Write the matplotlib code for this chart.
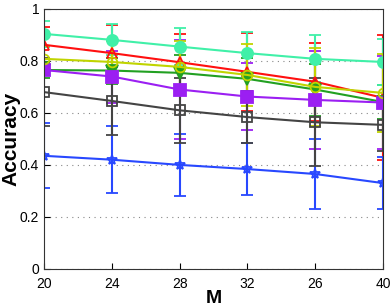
import matplotlib
matplotlib.use('Agg')
import matplotlib.pyplot as plt

plt.rcParams['font.family'] = ['Liberation Sans', 'DejaVu Sans']

m_labels = ['20', '24', '28', '32', '26', '40']

cyan_acc = [0.904, 0.881, 0.855, 0.830, 0.808, 0.796]
cyan_err = [0.05, 0.06, 0.07, 0.08, 0.09, 0.09]
red_acc = [0.862, 0.830, 0.795, 0.758, 0.720, 0.658]
red_err = [0.07, 0.11, 0.11, 0.15, 0.15, 0.24]
yellow_acc = [0.808, 0.796, 0.777, 0.746, 0.700, 0.677]
yellow_err = [0.05, 0.08, 0.10, 0.12, 0.15, 0.15]
green_acc = [0.765, 0.763, 0.754, 0.731, 0.690, 0.642]
green_err = [0.03, 0.05, 0.07, 0.08, 0.10, 0.065]
purple_acc = [0.765, 0.740, 0.690, 0.663, 0.650, 0.640]
purple_err = [0.02, 0.10, 0.19, 0.13, 0.19, 0.18]
gray_acc = [0.680, 0.646, 0.610, 0.584, 0.564, 0.554]
gray_err = [0.13, 0.13, 0.125, 0.10, 0.17, 0.10]
blue_acc = [0.435, 0.420, 0.400, 0.384, 0.365, 0.330]
blue_err = [0.125, 0.13, 0.12, 0.10, 0.135, 0.10]

x = list(range(len(m_labels)))

fig = plt.figure(figsize=(3.9, 3.08), dpi=100)
ax = fig.add_axes([0.113, 0.127, 0.869, 0.844])

def series(vals, errs, color, marker, filled):
    ax.errorbar(x, vals, yerr=errs, color=color, marker=marker, markersize=8 if filled else 7,
                markerfacecolor=color if filled else 'none', markeredgecolor=color,
                markeredgewidth=1.3, linewidth=1.5, capsize=4, elinewidth=1.5, capthick=1.5)

series(red_acc, red_err, '#FF1010', '^', False)
series(green_acc, green_err, '#22A022', 'v', True)
series(purple_acc, purple_err, '#9B1FF2', 's', True)
series(cyan_acc, cyan_err, '#40F0A8', 'o', True)
series(yellow_acc, yellow_err, '#C0D400', 'o', False)
series(blue_acc, blue_err, '#2848FF', '*', False)
series(gray_acc, gray_err, '#444444', 's', False)

ax.set_xlim(0, 5)
ax.set_ylim(0, 1)
ax.set_xticks(x)
ax.set_xticklabels(m_labels)
ax.set_yticks([0, 0.2, 0.4, 0.6, 0.8, 1])
ax.set_yticklabels(['0', '0.2', '0.4', '0.6', '0.8', '1'])
ax.yaxis.grid(True, linestyle=(0, (1, 4)), color='#888888', linewidth=0.8)
ax.tick_params(direction='in', labelsize=10, length=4)
ax.tick_params(axis='x', pad=6)
for s in ax.spines.values():
    s.set_color('#333333')
ax.set_xlabel('M', fontsize=14, fontweight='bold', labelpad=-1)
# y label placed by hand so it sits flush with the left edge
fig.text(0.004, 0.549, 'Accuracy', rotation=90, fontsize=15, fontweight='bold',
         ha='left', va='center')

fig.savefig('out.png', dpi=100)
